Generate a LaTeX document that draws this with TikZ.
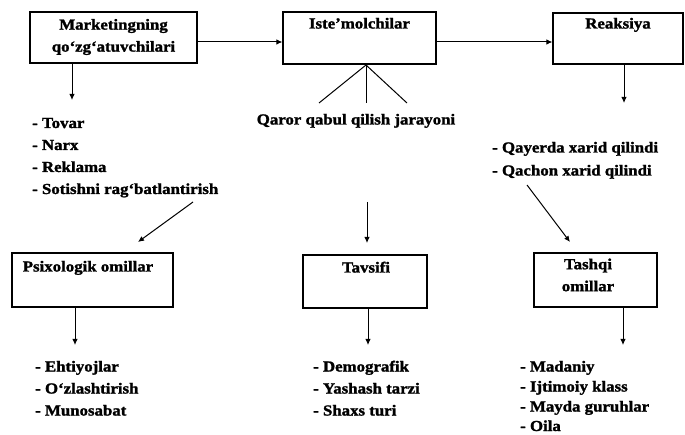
\documentclass[tikz,border=0pt]{standalone}
\usepackage{fontspec}
\setmainfont[FakeStretch=1.1,FakeBold=1.5]{Liberation Serif Bold}
\usetikzlibrary{arrows.meta,calc}
\begin{document}
\begin{tikzpicture}[x=1pt,y=-1pt,
  box/.style={draw, line width=1.2pt, inner sep=0pt},
  txt/.style={font=\fontsize{15.3}{22}\selectfont, inner sep=0pt},
  arr/.style={line width=1pt, -{Latex[length=6pt,width=5.5pt]}},
  ln/.style={line width=1pt}]
\useasboundingbox (0,0) rectangle (685,435);
% boxes
\node[box, minimum width=167pt, minimum height=51pt] (b1) at (113.5,37.5) {};
\node[box, minimum width=153pt, minimum height=52pt] (b2) at (359.5,38) {};
\node[box, minimum width=130pt, minimum height=51pt] (b3) at (618,38.5) {};
\node[box, minimum width=161pt, minimum height=54pt] (b4) at (92.5,280) {};
\node[box, minimum width=124pt, minimum height=53pt] (b5) at (365,281.5) {};
\node[box, minimum width=123pt, minimum height=54pt] (b6) at (595.5,280) {};
% titles
\node[txt, align=center] (h1) at (113.5,37) {Marketingning\\qo‘zg‘atuvchilari};
\node[txt, anchor=base] (h2) at (359.5,28.5) {Iste’molchilar};
\node[txt, anchor=base] (h3) at (618,28.5) {Reaksiya};
\node[txt, anchor=base] (h4) at (88,271.5) {Psixologik omillar};
\node[txt, anchor=base] (h5) at (366,272.5) {Tavsifi};
\node[txt, align=center] (h6) at (588,275) {Tashqi\\omillar};
% horizontal arrows
\coordinate (y1) at (0,42);
\draw[arr] (b1.east |- y1) -- (b2.west |- y1);
\draw[arr] (b2.east |- y1) -- (b3.west |- y1);
% down arrows from top boxes
\coordinate (d1) at (72,100);
\coordinate (d3) at (624,103);
\draw[arr] (b1.south -| d1) -- (d1);
\draw[arr] (b3.south -| d3) -- (d3);
% fan under Iste'molchilar
\coordinate (apex) at (366,65);
\coordinate (f1) at (319,103);
\coordinate (f2) at (366,103);
\coordinate (f3) at (407,103);
\draw[ln] (f1) -- (apex) -- (f3);
\draw[ln] (apex) -- (f2);
\node[txt, anchor=base] (q) at (356,124.5) {Qaror qabul qilish jarayoni};
% lists top
\node[txt, anchor=base west] (l1a) at (32,128) {- Tovar};
\node[txt, anchor=base west] (l1b) at (32,150) {- Narx};
\node[txt, anchor=base west] (l1c) at (32,172) {- Reklama};
\node[txt, anchor=base west] (l1d) at (32,194) {- Sotishni rag‘batlantirish};
\node[txt, anchor=base west] (l3a) at (492,152.5) {- Qayerda xarid qilindi};
\node[txt, anchor=base west] (l3b) at (492,175.5) {- Qachon xarid qilindi};
% arrows into lower boxes
\coordinate (s4) at (193,202);
\coordinate (e4) at (138,242);
\draw[arr] (s4) -- (e4);
\coordinate (s5) at (367,202);
\coordinate (e5) at (367,243);
\draw[arr] (s5) -- (e5);
\coordinate (s6) at (527,185);
\coordinate (e6) at (570,242);
\draw[arr] (s6) -- (e6);
% down arrows from lower boxes
\coordinate (g4) at (75,345);
\coordinate (g5) at (368,345);
\coordinate (g6) at (623,345);
\draw[arr] (b4.south -| g4) -- (g4);
\draw[arr] (b5.south -| g5) -- (g5);
\draw[arr] (b6.south -| g6) -- (g6);
% lower lists
\node[txt, anchor=base west] (p1) at (35,371.5) {- Ehtiyojlar};
\node[txt, anchor=base west] (p2) at (35,393.5) {- O‘zlashtirish};
\node[txt, anchor=base west] (p3) at (35,415.5) {- Munosabat};
\node[txt, anchor=base west] (t1) at (313,371.5) {- Demografik};
\node[txt, anchor=base west] (t2) at (313,393.5) {- Yashash tarzi};
\node[txt, anchor=base west] (t3) at (313,415.5) {- Shaxs turi};
\node[txt, anchor=base west] (m1) at (520,371.5) {- Madaniy};
\node[txt, anchor=base west] (m2) at (520,391.5) {- Ijtimoiy klass};
\node[txt, anchor=base west] (m3) at (520,411.5) {- Mayda guruhlar};
\node[txt, anchor=base west] (m4) at (520,431) {- Oila};
\end{tikzpicture}
\end{document}
